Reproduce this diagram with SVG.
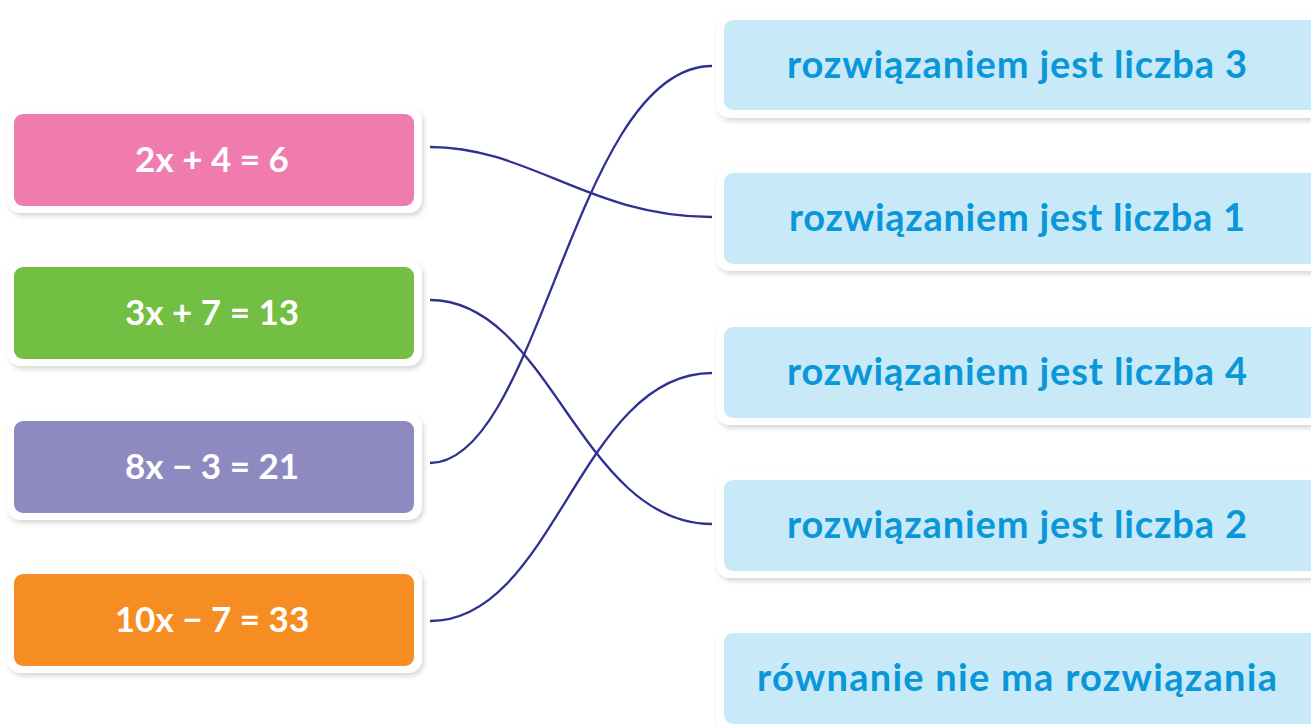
<svg xmlns="http://www.w3.org/2000/svg" width="1311" height="726" viewBox="0 0 1311 726">
<defs>
<filter id="sh" x="-5%" y="-10%" width="115%" height="130%">
<feDropShadow dx="2" dy="3" stdDeviation="2.5" flood-color="#000" flood-opacity="0.16"/>
</filter>
</defs>
<style>
.card{fill:#fff;filter:url(#sh)}
.lt{font-family:Lato,"Open Sans",sans-serif;font-weight:bold;font-size:35px;fill:#fff;text-anchor:middle}
.rt{font-family:Lato,"Open Sans",sans-serif;font-weight:bold;font-size:38px;fill:#0a97d9;text-anchor:middle}
.rb{fill:#c8e9f8}
.conn path{fill:none;stroke:#2e3192;stroke-width:2.3}
</style>
<rect width="1311" height="726" fill="#fff"/>
<g id="eq1"><rect class="card" x="7" y="107" width="415" height="106" rx="14"/><rect x="14" y="114" width="400" height="92" rx="9" fill="#f07caf"/><text class="lt" x="212" y="172">2x + 4 = 6</text></g>
<g id="eq2"><rect class="card" x="7" y="260" width="415" height="106" rx="14"/><rect x="14" y="267" width="400" height="92" rx="9" fill="#72bf44"/><text class="lt" x="212" y="325">3x + 7 = 13</text></g>
<g id="eq3"><rect class="card" x="7" y="414" width="415" height="106" rx="14"/><rect x="14" y="421" width="400" height="92" rx="9" fill="#8e8ac1"/><text class="lt" x="212" y="479">8x − 3 = 21</text></g>
<g id="eq4"><rect class="card" x="7" y="567" width="415" height="106" rx="14"/><rect x="14" y="574" width="400" height="92" rx="9" fill="#f58d22"/><text class="lt" x="212" y="632">10x − 7 = 33</text></g>
<g id="ans3"><rect class="card" x="716" y="12" width="610" height="106" rx="14"/><rect class="rb" x="724" y="20" width="600" height="90" rx="9"/><text class="rt" x="1017" y="78" textLength="460" lengthAdjust="spacing">rozwiązaniem jest liczba 3</text></g>
<g id="ans1"><rect class="card" x="716" y="165" width="610" height="106" rx="14"/><rect class="rb" x="724" y="173" width="600" height="91" rx="9"/><text class="rt" x="1017" y="231" textLength="456" lengthAdjust="spacing">rozwiązaniem jest liczba 1</text></g>
<g id="ans4"><rect class="card" x="716" y="319" width="610" height="106" rx="14"/><rect class="rb" x="724" y="327" width="600" height="91" rx="9"/><text class="rt" x="1017" y="385" textLength="460" lengthAdjust="spacing">rozwiązaniem jest liczba 4</text></g>
<g id="ans2"><rect class="card" x="716" y="472" width="610" height="106" rx="14"/><rect class="rb" x="724" y="480" width="600" height="91" rx="9"/><text class="rt" x="1017" y="538" textLength="460" lengthAdjust="spacing">rozwiązaniem jest liczba 2</text></g>
<g id="ansNone"><rect class="card" x="716" y="625" width="610" height="106" rx="14"/><rect class="rb" x="724" y="633" width="600" height="91" rx="9"/><text class="rt" x="1017" y="691" textLength="520" lengthAdjust="spacing">równanie nie ma rozwiązania</text></g>
<g class="conn" id="connectors">
<path d="M430,147 C530,147 590,217 712,217"/>
<path d="M430,300 C550,300 580,524 712,524"/>
<path d="M430,463 C540,463 575,66 712,66"/>
<path d="M430,621 C555,621 580,373 712,373"/>
</g>
</svg>
